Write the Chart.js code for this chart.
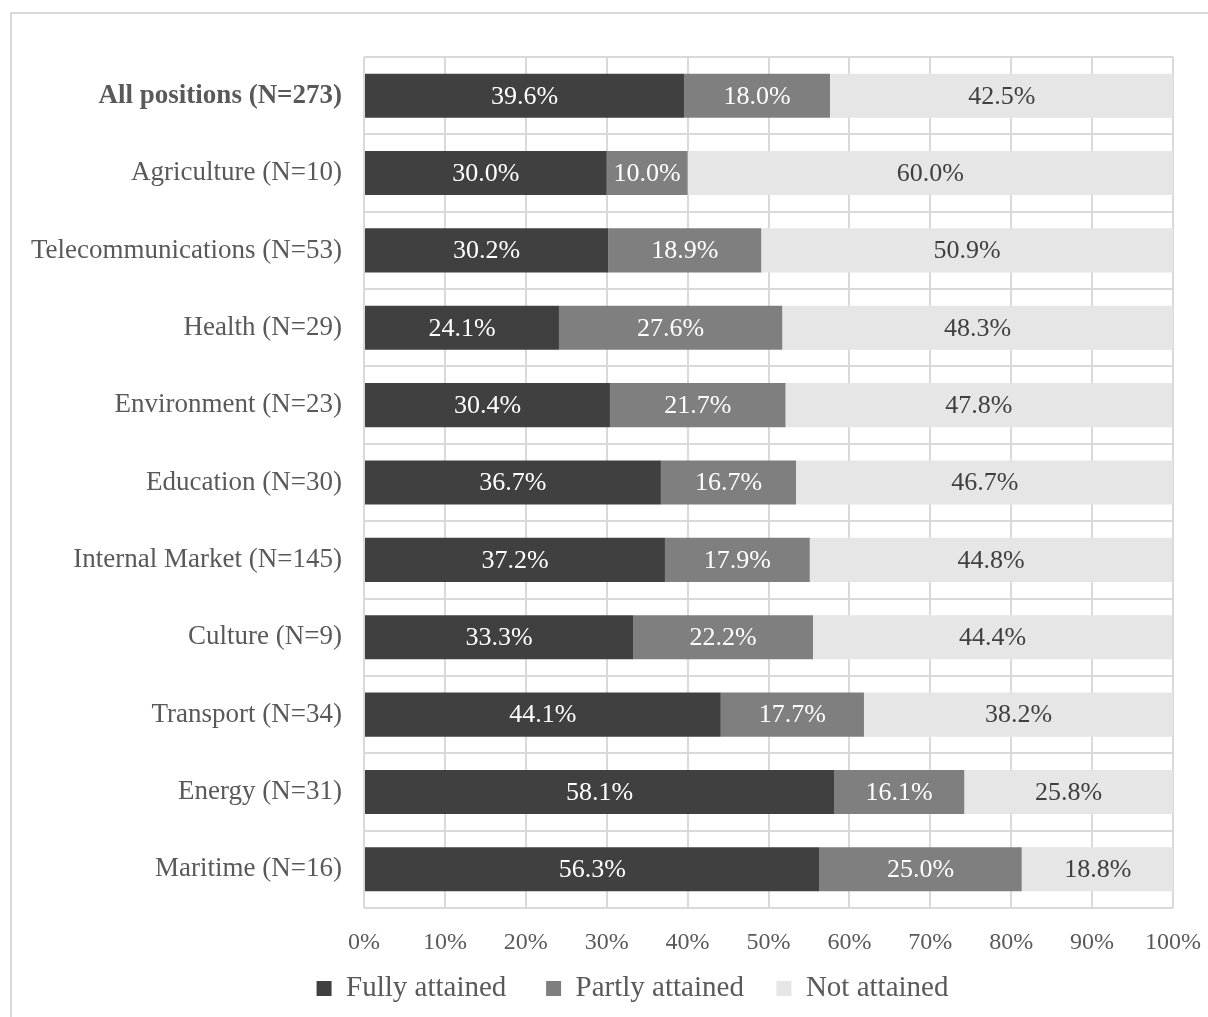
<!DOCTYPE html>
<html>
<head>
<meta charset="utf-8">
<script src="https://cdn.jsdelivr.net/npm/chart.js@4"></script>
<style>
  html, body { margin: 0; padding: 0; background: #fff; overflow: hidden; }
  #frame { position: absolute; left: 10px; top: 12px; width: 1300px; height: 1100px; border: 2px solid #d9d9d9; }
  #wrap { position: absolute; left: 0; top: 0; width: 1208px; height: 1017px; }
</style>
</head>
<body>
<div id="frame"></div>
<div id="wrap"><canvas id="attainChart" width="1208" height="1017"></canvas></div>
<script>
// categories, top to bottom
var categories = [
    'All positions (N=273)', 'Agriculture (N=10)', 'Telecommunications (N=53)',
    'Health (N=29)', 'Environment (N=23)', 'Education (N=30)',
    'Internal Market (N=145)', 'Culture (N=9)', 'Transport (N=34)',
    'Energy (N=31)', 'Maritime (N=16)'
];
var fullyAttained = [39.6, 30.0, 30.2, 24.1, 30.4, 36.7, 37.2, 33.3, 44.1, 58.1, 56.3];
var partlyAttained = [18.0, 10.0, 18.9, 27.6, 21.7, 16.7, 17.9, 22.2, 17.7, 16.1, 25.0];
var notAttained = [42.5, 60.0, 50.9, 48.3, 47.8, 46.7, 44.8, 44.4, 38.2, 25.8, 18.8];
var xTicks = [0, 10, 20, 30, 40, 50, 60, 70, 80, 90, 100];

var serif = '"Liberation Serif", "Times New Roman", serif';

// writes each segment's value in the middle of its bar
var barLabels = {
    id: 'barLabels',
    afterDatasetsDraw: function(chart) {
        var ctx = chart.ctx;
        ctx.save();
        ctx.font = '26px ' + serif;
        ctx.textAlign = 'center';
        ctx.textBaseline = 'middle';
        chart.data.datasets.forEach(function(ds, di) {
            chart.getDatasetMeta(di).data.forEach(function(bar, i) {
                var p = bar.getProps(['x', 'y', 'base'], true);
                ctx.fillStyle = ds.labelColor;
                ctx.fillText(ds.data[i].toFixed(1) + '%', (p.x + p.base) / 2, p.y + 1);
            });
        });
        ctx.restore();
    }
};

// nudge the legend row a little to the right
var legendShift = {
    id: 'legendShift',
    afterLayout: function(chart) {
        chart.legend.left += 46;
        chart.legend.right += 46;
    }
};

// extra gap after the first two legend entries
var legendGap = ['   ', '  ', ''];

var ctx = document.getElementById('attainChart').getContext('2d');
var attainChart = new Chart(ctx, {
    type: 'bar',
    data: {
        labels: categories,
        datasets: [{
            label: 'Fully attained',
            data: fullyAttained,
            backgroundColor: '#404040',
            labelColor: '#ffffff'
        }, {
            label: 'Partly attained',
            data: partlyAttained,
            backgroundColor: '#7f7f7f',
            labelColor: '#ffffff'
        }, {
            label: 'Not attained',
            data: notAttained,
            backgroundColor: '#e6e6e6',
            labelColor: '#404040'
        }]
    },
    options: {
        indexAxis: 'y',
        responsive: false,
        animation: false,
        layout: { padding: { top: 57, right: 35, bottom: 4, left: 0 } },
        datasets: {
            bar: { categoryPercentage: 1, barPercentage: 0.57, borderWidth: 0 }
        },
        scales: {
            x: {
                stacked: true,
                min: 0,
                max: 100,
                afterBuildTicks: function(scale) {
                    scale.ticks = xTicks.map(function(v) { return { value: v }; });
                },
                afterFit: function(scale) {
                    scale.height = 48;
                    scale.paddingLeft = 0;
                    scale.paddingRight = 0;
                },
                grid: { color: '#d9d9d9', lineWidth: 2, drawTicks: false },
                border: { display: false },
                ticks: {
                    padding: 20,
                    color: '#595959',
                    font: { family: serif, size: 24 },
                    callback: function(v) { return v + '%'; }
                }
            },
            y: {
                stacked: true,
                afterFit: function(scale) { scale.width = 364; },
                grid: { color: '#d9d9d9', lineWidth: 2, drawTicks: false, offset: true },
                border: { display: false },
                ticks: {
                    padding: 22,
                    color: '#595959',
                    font: function(c) {
                        return { family: serif, size: 27, weight: c.index === 0 ? 'bold' : 'normal' };
                    }
                }
            }
        },
        plugins: {
            tooltip: { enabled: false },
            legend: {
                position: 'bottom',
                labels: {
                    boxWidth: 15,
                    boxHeight: 15,
                    padding: 18,
                    color: '#595959',
                    font: { family: serif, size: 29 },
                    generateLabels: function(chart) {
                        return Chart.defaults.plugins.legend.labels.generateLabels(chart).map(function(item, i) {
                            item.text += legendGap[i];
                            return item;
                        });
                    }
                }
            }
        }
    },
    plugins: [barLabels, legendShift]
});
</script>
</body>
</html>
